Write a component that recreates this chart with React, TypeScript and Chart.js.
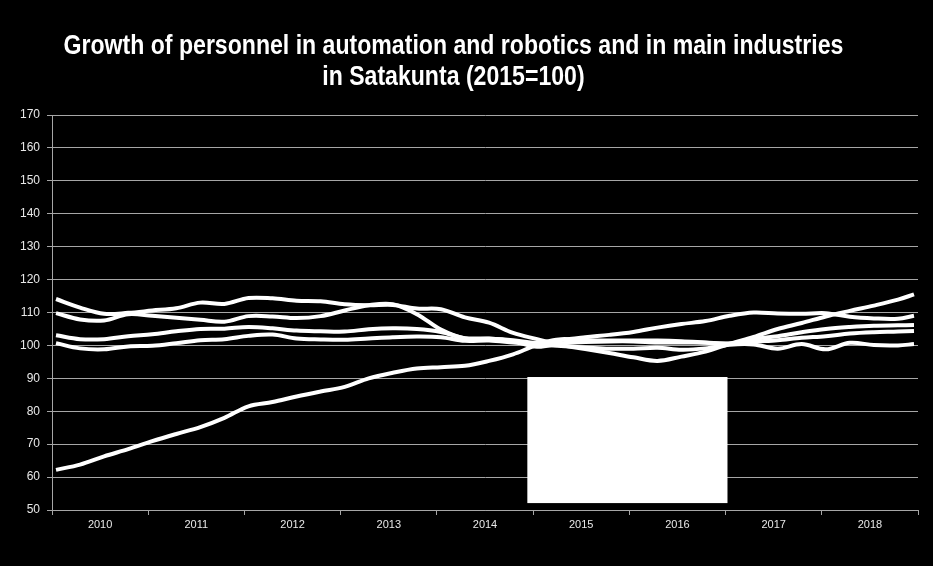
import React, { useEffect, useRef } from "react";
import { Chart, registerables } from "chart.js";

Chart.register(...registerables);

// Title lines
const titleLines = [
  "Growth of personnel in automation and robotics and in main industries",
  "in Satakunta (2015=100)",
];

// Year categories along the x axis
const years = ["2010", "2011", "2012", "2013", "2014", "2015", "2016", "2017", "2018"];

// Sample months (YYYY-MM) at which the series values were read
const sampleMonths = [
  "2010-01", "2010-04", "2010-07", "2010-10",
  "2011-01", "2011-04", "2011-07", "2011-10",
  "2012-01", "2012-04", "2012-07", "2012-10",
  "2013-01", "2013-04", "2013-07", "2013-10",
  "2014-01", "2014-04", "2014-07", "2014-10",
  "2015-01", "2015-04", "2015-07", "2015-10",
  "2016-01", "2016-04", "2016-07", "2016-10",
  "2017-01", "2017-04", "2017-07", "2017-10",
  "2018-01", "2018-04", "2018-07", "2018-10",
  "2018-12",
];

// Series values (2015 = 100)
const automationRobotics = [
  62.2, 63.8, 66.3, 68.5, 70.9, 73.1, 75.2, 78.0, 81.5, 82.8, 84.5, 86.0,
  87.4, 90.0, 91.7, 93.0, 93.4, 93.8, 95.3, 97.3, 100.1, 101.6, 102.5, 103.2,
  104.1, 105.4, 106.5, 107.4, 109.0, 110.0, 109.7, 109.6, 109.8, 108.7, 108.2, 108.1,
  109.0,
];
const industryA = [
  114.1, 111.5, 109.6, 109.9, 110.6, 111.3, 113.0, 112.6, 114.4, 114.3, 113.6, 113.4,
  112.5, 112.2, 112.3, 111.2, 111.0, 108.5, 106.9, 103.8, 101.9, 100.1, 98.9, 97.7,
  96.4, 95.3, 96.6, 98.1, 100.5, 102.6, 105.0, 106.8, 108.8, 110.5, 112.1, 113.9,
  115.5,
];
const industryB = [
  109.8, 107.9, 107.6, 109.5, 109.0, 108.4, 107.8, 107.2, 108.9, 108.8, 108.3, 108.9,
  110.6, 112.2, 112.5, 109.5, 104.8, 102.1, 102.0, 101.6, 100.8, 101.9, 101.6, 101.5,
  101.5, 101.5, 101.3, 100.9, 100.5, 101.1, 101.6, 102.3, 102.8, 103.6, 104.0, 104.2,
  104.4,
];
const industryC = [
  103.1, 101.9, 101.9, 102.8, 103.4, 104.3, 105.0, 105.1, 105.6, 105.2, 104.5, 104.3,
  104.2, 104.9, 105.2, 105.0, 104.1, 102.2, 102.1, 101.3, 99.6, 100.6, 101.0, 101.2,
  101.2, 100.9, 100.9, 100.8, 100.6, 102.0, 102.8, 104.0, 105.0, 105.6, 106.0, 106.1,
  106.2,
];
const industryD = [
  100.7, 99.1, 98.8, 99.7, 99.9, 100.7, 101.6, 101.9, 102.9, 103.3, 102.1, 101.8,
  101.7, 102.1, 102.5, 102.7, 102.5, 101.4, 101.5, 100.9, 100.3, 99.8, 99.4, 99.0,
  99.0, 99.3, 98.7, 99.1, 100.2, 100.3, 99.0, 100.4, 98.8, 100.8, 100.1, 100.0,
  100.4,
];

const seriesNames = [
  "Automation and robotics",
  "Main industry 1",
  "Main industry 2",
  "Main industry 3",
  "Main industry 4",
];

// The blank (white) legend panel, in data units
const legendPanel = { xFrom: 2014.94, xTo: 2017.02, yFrom: 90.4, yTo: 52.1 };

const monthToX = (s: string) => {
  const [y, m] = s.split("-").map(Number);
  return y + (m - 0.5) / 12;
};

const whitePanelPlugin = {
  id: "whitePanel",
  afterDatasetsDraw(chart: any) {
    const xs = chart.scales.xm;
    const ys = chart.scales.y;
    const ctx = chart.ctx;
    const x0 = xs.getPixelForValue(legendPanel.xFrom);
    const x1 = xs.getPixelForValue(legendPanel.xTo);
    const y0 = ys.getPixelForValue(legendPanel.yFrom);
    const y1 = ys.getPixelForValue(legendPanel.yTo);
    ctx.save();
    ctx.fillStyle = "#ffffff";
    ctx.fillRect(x0, y0, x1 - x0, y1 - y0);
    ctx.restore();
  },
};

// Condensed bold title (narrow face is not installed, so the regular bold face is squeezed)
const condensedTitlePlugin = {
  id: "condensedTitle",
  afterDraw(chart: any) {
    const ctx = chart.ctx;
    const cx = chart.width * 0.486;
    const baselines = [54, 85];
    ctx.save();
    ctx.fillStyle = "#ffffff";
    ctx.font = "bold 27px 'Liberation Sans', Arial, sans-serif";
    ctx.textAlign = "center";
    ctx.textBaseline = "alphabetic";
    titleLines.forEach((line, i) => {
      ctx.save();
      ctx.translate(cx, baselines[i]);
      ctx.scale(0.855, 1);
      ctx.fillText(line, 0, 0);
      ctx.restore();
    });
    ctx.restore();
  },
};

export default function App() {
  const canvasRef = useRef<HTMLCanvasElement | null>(null);

  useEffect(() => {
    if (!canvasRef.current) return;
    const xs = sampleMonths.map(monthToX);
    const all = [automationRobotics, industryA, industryB, industryC, industryD];
    const chart = new Chart(canvasRef.current, {
      type: "line",
      data: {
        labels: years,
        datasets: all.map((vals, i) => ({
          label: seriesNames[i],
          data: vals.map((v, k) => ({ x: xs[k], y: v })),
          xAxisID: "xm",
          yAxisID: "y",
          borderColor: "#ffffff",
          borderWidth: 4,
          pointRadius: 0,
          tension: 0.35,
          fill: false,
        })),
      },
      options: {
        animation: false,
        responsive: true,
        maintainAspectRatio: false,
        layout: { padding: { left: 0, right: 15, top: 115, bottom: 26 } },
        plugins: {
          legend: { display: false },
          tooltip: { enabled: false },
          title: { display: false },
        },
        scales: {
          xm: {
            type: "linear",
            display: false,
            min: 2010,
            max: 2019,
          },
          x: {
            type: "category",
            position: "bottom",
            labels: years,
            offset: true,
            grid: {
              offset: true,
              drawOnChartArea: false,
              drawTicks: true,
              tickLength: 5,
              color: "#a6a6a6",
            },
            border: { color: "#a6a6a6", width: 1 },
            ticks: {
              color: "#e8e8e8",
              padding: 3,
              maxRotation: 0,
              autoSkip: false,
              font: { family: "'Liberation Sans', Arial, sans-serif", size: 11 },
            },
            afterFit(scale: any) {
              scale.height = 30;
            },
          },
          y: {
            type: "linear",
            min: 50,
            max: 170,
            grid: { color: "#a6a6a6", tickLength: 5, lineWidth: 1 },
            border: { color: "#a6a6a6", width: 1 },
            ticks: {
              stepSize: 10,
              color: "#e8e8e8",
              padding: 7,
              font: { family: "'Liberation Sans', Arial, sans-serif", size: 12 },
            },
            afterFit(scale: any) {
              scale.width = 52;
            },
          },
        },
      },
      plugins: [whitePanelPlugin, condensedTitlePlugin],
    });
    return () => chart.destroy();
  }, []);

  return (
    <div style={{ position: "fixed", left: 0, top: 0, width: 933, height: 566, background: "#000" }}>
      <canvas ref={canvasRef} />
    </div>
  );
}
